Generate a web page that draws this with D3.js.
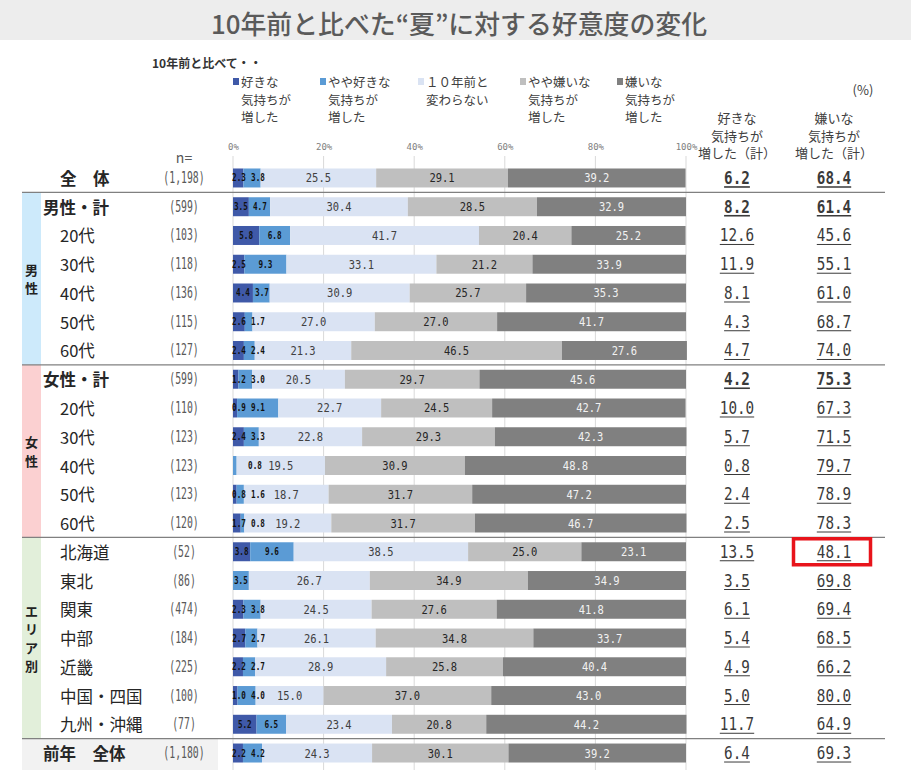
<!DOCTYPE html>
<html>
<head>
<meta charset="utf-8">
<title>10年前と比べた“夏”に対する好意度の変化</title>
<script src="https://cdn.jsdelivr.net/npm/d3@7"></script>
<style>
  body { margin: 0; background: #fff; }
  text { font-family: "Noto Sans CJK JP", sans-serif; }
  .num { font-family: "DejaVu Sans Mono", monospace; }
</style>
</head>
<body>
<div id="chart"></div>
<script>

// row labels, n and group
var rows = ["全体", "男性・計", "男20代", "男30代", "男40代", "男50代", "男60代",
            "女性・計", "女20代", "女30代", "女40代", "女50代", "女60代",
            "北海道", "東北", "関東", "中部", "近畿", "中国・四国", "九州・沖縄", "前年全体"];
var rowLabels = ["全　体", "男性・計", "20代", "30代", "40代", "50代", "60代",
                 "女性・計", "20代", "30代", "40代", "50代", "60代",
                 "北海道", "東北", "関東", "中部", "近畿", "中国・四国", "九州・沖縄", "前年　全体"];
var nLabels = ["(1,198)", "(599)", "(103)", "(118)", "(136)", "(115)", "(127)",
               "(599)", "(110)", "(123)", "(123)", "(123)", "(120)",
               "(52)", "(86)", "(474)", "(184)", "(225)", "(100)", "(77)", "(1,180)"];

// series values, one array per answer
var like     = [2.3, 3.5, 5.8, 2.5, 4.4, 2.6, 2.4, 1.2, 0.9, 2.4, 0.0, 0.8, 1.7, 3.8, 0.0, 2.3, 2.7, 2.2, 1.0, 5.2, 2.2];
var ratherLike = [3.8, 4.7, 6.8, 9.3, 3.7, 1.7, 2.4, 3.0, 9.1, 3.3, 0.8, 1.6, 0.8, 9.6, 3.5, 3.8, 2.7, 2.7, 4.0, 6.5, 4.2];
var same     = [25.5, 30.4, 41.7, 33.1, 30.9, 27.0, 21.3, 20.5, 22.7, 22.8, 19.5, 18.7, 19.2, 38.5, 26.7, 24.5, 26.1, 28.9, 15.0, 23.4, 24.3];
var ratherDislike = [29.1, 28.5, 20.4, 21.2, 25.7, 27.0, 46.5, 29.7, 24.5, 29.3, 30.9, 31.7, 31.7, 25.0, 34.9, 27.6, 34.8, 25.8, 37.0, 20.8, 30.1];
var dislike  = [39.2, 32.9, 25.2, 33.9, 35.3, 41.7, 27.6, 45.6, 42.7, 42.3, 48.8, 47.2, 46.7, 23.1, 34.9, 41.8, 33.7, 40.4, 43.0, 44.2, 39.2];

// totals on the right
var likeTotal    = ["6.2", "8.2", "12.6", "11.9", "8.1", "4.3", "4.7", "4.2", "10.0", "5.7", "0.8", "2.4", "2.5",
                    "13.5", "3.5", "6.1", "5.4", "4.9", "5.0", "11.7", "6.4"];
var dislikeTotal = ["68.4", "61.4", "45.6", "55.1", "61.0", "68.7", "74.0", "75.3", "67.3", "71.5", "79.7", "78.9", "78.3",
                    "48.1", "69.8", "69.4", "68.5", "66.2", "80.0", "64.9", "69.3"];

var boldRows = ["全体", "男性・計", "女性・計", "前年全体"];

var seriesKeys = ["like", "ratherLike", "same", "ratherDislike", "dislike"];
var seriesNames = [["好きな", "気持ちが", "増した"], ["やや好きな", "気持ちが", "増した"], ["１０年前と", "変わらない"],
                   ["やや嫌いな", "気持ちが", "増した"], ["嫌いな", "気持ちが", "増した"]];
var colors = ["#3f59a8", "#5b9bd5", "#dae3f3", "#bfbfbf", "#808080"];
var ticks = [0, 20, 40, 60, 80, 100];

var groups = [
  {label: ["男", "性"], from: "男性・計", to: "男60代", fill: "#cdeafb"},
  {label: ["女", "性"], from: "女性・計", to: "女60代", fill: "#fbd0d1"},
  {label: ["エ", "リ", "ア", "別"], from: "北海道", to: "九州・沖縄", fill: "#e2efda"}
];

var W = 911, H = 770;

var table = rows.map(function(r, i) {
  return {key: r, like: like[i], ratherLike: ratherLike[i], same: same[i],
          ratherDislike: ratherDislike[i], dislike: dislike[i]};
});

var svg = d3.select("#chart").append("svg")
    .attr("width", W).attr("height", H);

var x = d3.scaleLinear().domain([0, 100]).range([233, 686]);
var y = d3.scaleBand().domain(rows).range([163.6, 767.4]).paddingInner(0.34).paddingOuter(0.17);
var step = y.step();
function mid(r) { return y(r) + y.bandwidth() / 2; }
function below(r) { return mid(r) + step / 2; }

// squeeze a condensed-looking number
function numText(sel, perChar) {
  sel.each(function() {
    var t = d3.select(this);
    t.attr("textLength", t.text().length * perChar).attr("lengthAdjust", "spacingAndGlyphs");
  });
}

// multi-line text as one element
function lines(g, xx, yy, list, gap, anchor, size) {
  var t = g.append("text").attr("x", xx).attr("y", yy).attr("text-anchor", anchor)
    .attr("font-size", size).attr("fill", "#404040");
  t.selectAll("tspan").data(list).join("tspan")
    .attr("x", xx).attr("dy", function(s, j) { return j === 0 ? 0 : gap; })
    .text(function(s) { return s; });
  return t;
}

// title banner
svg.append("rect").attr("x", 0).attr("y", 0).attr("width", W).attr("height", 40).attr("fill", "#ededed");
svg.append("text").attr("x", 459).attr("y", 34).attr("text-anchor", "middle")
  .attr("font-size", 26).attr("font-weight", 500).attr("fill", "#5a5a5a")
  .attr("textLength", 496).attr("lengthAdjust", "spacingAndGlyphs")
  .text("10年前と比べた“夏”に対する好意度の変化");

svg.append("text").attr("x", 152).attr("y", 68).attr("font-size", 12).attr("font-weight", 700)
  .attr("fill", "#333").text("10年前と比べて・・");

// legend
var legendX = [233, 320, 418, 520, 617];
var legend = svg.append("g");
seriesNames.forEach(function(d, i) {
  legend.append("rect").attr("x", legendX[i]).attr("y", 78)
    .attr("width", 6).attr("height", 7).attr("fill", colors[i]);
  lines(legend, legendX[i] + 8, 87, d, 17.5, "start", 12.5);
});

svg.append("text").attr("x", 863).attr("y", 95).attr("text-anchor", "middle")
  .attr("font-size", 13).attr("fill", "#404040").text("(%)");

lines(svg, 737, 123, ["好きな", "気持ちが", "増した（計）"], 17.5, "middle", 13);
lines(svg, 834, 123, ["嫌いな", "気持ちが", "増した（計）"], 17.5, "middle", 13);

svg.append("text").attr("x", 184).attr("y", 163).attr("text-anchor", "middle")
  .attr("font-size", 14).attr("fill", "#595959").text("n=");

// left group boxes
groups.forEach(function(g) {
  var y0 = below(rows[rows.indexOf(g.from) - 1]), y1 = below(g.to);
  svg.append("rect").attr("x", 22).attr("y", y0).attr("width", 19).attr("height", y1 - y0).attr("fill", g.fill);
  var n = g.label.length, cy = (y0 + y1) / 2;
  svg.append("g").selectAll("text").data(g.label).join("text")
    .attr("x", 31.5).attr("y", function(s, j) { return cy + (j - (n - 1) / 2) * 18.5; })
    .attr("text-anchor", "middle").attr("dominant-baseline", "central")
    .attr("font-size", 13).attr("font-weight", 700).attr("fill", "#222")
    .text(function(s) { return s; });
});

// previous year box
svg.append("rect").attr("x", 22).attr("y", below("九州・沖縄")).attr("width", 196)
  .attr("height", H - below("九州・沖縄")).attr("fill", "#f2f2f2");

// grid lines
svg.append("g").selectAll("line").data(ticks).join("line")
  .attr("x1", function(d) { return x(d); }).attr("x2", function(d) { return x(d); })
  .attr("y1", 156).attr("y2", H)
  .attr("stroke", "#d9d9d9").attr("stroke-width", 1);

// axis tick labels
var axis = svg.append("g").attr("transform", "translate(0,153)")
  .call(d3.axisTop(x).tickValues(ticks).tickSize(0).tickFormat(function(d) { return d + "%"; }));
axis.select(".domain").remove();
axis.selectAll("text").attr("font-size", 9).attr("fill", "#808080")
  .style("font-family", "'DejaVu Sans Mono', monospace");

// stacked bars
var stack = d3.stack().keys(seriesKeys)(table);
var layer = svg.append("g").selectAll("g").data(stack).join("g")
  .attr("fill", function(d, i) { return colors[i]; });
layer.selectAll("rect").data(function(d) { return d; }).join("rect")
  .attr("x", function(d) { return x(d[0]); })
  .attr("y", function(d) { return y(d.data.key); })
  .attr("width", function(d) { return x(d[1]) - x(d[0]); })
  .attr("height", y.bandwidth());

// segment labels
var labelColors = ["#111", "#111", "#404040", "#262626", "#f2f2f2"];
table.forEach(function(d, i) {
  var cy = mid(d.key);
  var lx = [];
  stack.forEach(function(s, k) {
    var seg = s[i];
    var v = seg[1] - seg[0];
    var cx = (x(seg[0]) + x(seg[1])) / 2;
    if (k === 0) cx = Math.max(cx, 239);
    if (k === 1) cx = d.like > 0 ? Math.max(cx, lx[0] + 19) : Math.max(cx, v < 2 ? 255 : 240);
    lx[k] = cx;
    if (v <= 0) return;
    var t = svg.append("text").attr("class", "num")
      .attr("x", cx).attr("y", cy).attr("text-anchor", "middle").attr("dominant-baseline", "central")
      .attr("fill", labelColors[k])
      .attr("font-size", k < 2 ? 10 : 13).attr("font-weight", k < 2 ? 700 : 400)
      .text(v.toFixed(1));
    numText(t, k < 2 ? 4.6 : 6.3);
  });
});

// row labels and n
svg.append("g").selectAll("text").data(rows).join("text")
  .attr("x", function(d) { return (d === "全体" || boldRows.indexOf(d) < 0) ? 60 : 43; })
  .attr("y", function(d) { return mid(d); })
  .attr("dominant-baseline", "central")
  .attr("font-size", 16.5)
  .attr("font-weight", function(d) { return boldRows.indexOf(d) >= 0 ? 700 : 400; })
  .attr("fill", "#262626")
  .text(function(d, i) { return rowLabels[i]; });

svg.append("g").selectAll("text").data(rows).join("text")
  .attr("class", "num")
  .attr("x", 184).attr("y", function(d) { return mid(d); })
  .attr("text-anchor", "middle").attr("dominant-baseline", "central")
  .attr("font-size", 15).attr("fill", "#595959")
  .text(function(d, i) { return nLabels[i]; })
  .call(numText, 5.9);

// totals, underlined
[{x: 737, v: likeTotal}, {x: 834, v: dislikeTotal}].forEach(function(col) {
  rows.forEach(function(r, i) {
    var b = boldRows.indexOf(r) >= 0 && r !== "前年全体";
    var s = col.v[i], w = s.length * 8.6, cy = mid(r);
    var t = svg.append("text").attr("class", "num")
      .attr("x", col.x).attr("y", cy + 6).attr("text-anchor", "middle")
      .attr("font-size", 17).attr("font-weight", b ? 700 : 400).attr("fill", "#3a3a3a")
      .text(s);
    numText(t, 8.6);
    svg.append("line").attr("x1", col.x - w / 2).attr("x2", col.x + w / 2)
      .attr("y1", cy + 9).attr("y2", cy + 9)
      .attr("stroke", "#3a3a3a").attr("stroke-width", b ? 1.6 : 1);
  });
});

// separators
["全体", "男60代", "女60代", "九州・沖縄"].forEach(function(r) {
  svg.append("line").attr("x1", 22).attr("x2", 885)
    .attr("y1", below(r)).attr("y2", below(r))
    .attr("stroke", "#808080").attr("stroke-width", 1.2);
});

// highlight box
var hy = y("北海道");
svg.append("rect").attr("x", 793.5).attr("y", hy - 3.5).attr("width", 77).attr("height", y.bandwidth() + 7)
  .attr("fill", "none").attr("stroke", "#e8141b").attr("stroke-width", 3.5);

</script>
</body>
</html>
